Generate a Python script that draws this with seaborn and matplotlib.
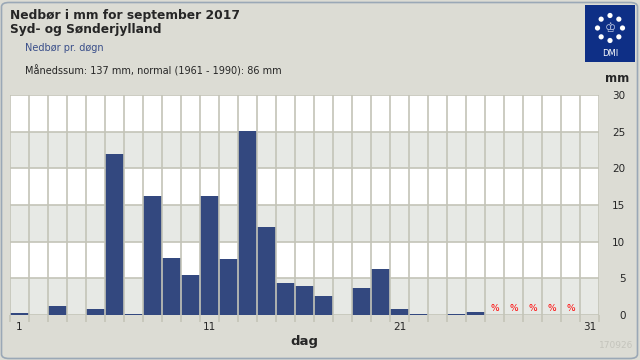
import numpy as np
import pandas as pd
import matplotlib
matplotlib.use("Agg")
import matplotlib.pyplot as plt
from matplotlib.patches import FancyBboxPatch, Rectangle, Circle
import seaborn as sns

sns.set_style("white")
plt.rcParams['font.family'] = ['DejaVu Sans']

# Data: daily precipitation (mm), September 2017, days 26-30 missing, day 31 doesn't exist
days = [str(d) for d in range(1, 32)]
rain = [0.3, 0.0, 1.2, 0.0, 0.8, 22.0, 0.2, 16.2, 7.8, 5.5,
        16.2, 7.6, 25.1, 12.0, 4.4, 4.0, 2.6, 0.0, 3.7, 6.3,
        0.8, 0.15, 0.0, 0.15, 0.35, np.nan, np.nan, np.nan, np.nan, np.nan,
        np.nan]
missing_days = ["26", "27", "28", "29", "30"]
xtick_labels = ["1", "11", "21", "31"]
yticks = [0, 5, 10, 15, 20, 25, 30]

df = pd.DataFrame({"dag": days, "mm": rain})

bg = "#dcdcd4"
band = "#e7e9e5"
gridc = "#c4c4b8"
barc = "#33487f"

fig = plt.figure(figsize=(6.4, 3.6), dpi=100, facecolor=bg)
ax = fig.add_axes([10 / 640, 45 / 360, 589 / 640, 220 / 360])
ax.set_facecolor("white")

# alternating bands
for lo in range(0, 30, 10):
    ax.axhspan(lo, lo + 5, color=band, zorder=0, lw=0)

sns.barplot(data=df, x="dag", y="mm", order=days, color=barc, saturation=1,
            width=1.0, edgecolor="none", linewidth=0, errorbar=None,
            ax=ax, zorder=2)

ax.set_xlim(-0.5, 30.5)
ax.set_ylim(0, 30)

# grid: horizontal behind bars, vertical separators in front
for x in np.arange(-0.5, 31, 1):
    ax.axvline(x, color=gridc, lw=1.2, zorder=3)
for y in yticks:
    ax.axhline(y, color=gridc, lw=1.2, zorder=1)

for s in ax.spines.values():
    s.set_visible(False)

# missing markers
for d in missing_days:
    ax.text(days.index(d), 0.3, "%", color="red", fontsize=6.5,
            ha="center", va="bottom", zorder=4)

# x ticks
ax.set_xticks([days.index(t) for t in xtick_labels])
ax.set_xticklabels(xtick_labels, fontsize=7.5)
ax.set_xticks(np.arange(-0.5, 31, 1), minor=True)
ax.tick_params(axis="x", which="major", length=0, pad=5)
ax.tick_params(axis="x", which="minor", length=5, color=gridc, width=1.2,
               direction="out", bottom=True)
ax.set_xlabel("dag", fontsize=9.5, fontweight="bold", labelpad=2)

# y ticks right
ax.yaxis.tick_right()
ax.set_yticks(yticks)
ax.set_yticklabels([str(v) for v in yticks], fontsize=7.5, ha="right")
ax.tick_params(axis="y", length=0, pad=19)
ax.set_ylabel("")

# border
fig.patches.append(FancyBboxPatch((1.5 / 640, 1.5 / 360), 636 / 640, 356 / 360,
                                  boxstyle="round,pad=0,rounding_size=0.012",
                                  transform=fig.transFigure, facecolor="none",
                                  edgecolor="#9aa8b6", lw=1.2, zorder=0))

# titles
fig.text(10 / 640, 1 - 15.5 / 360, "Nedbør i mm for september 2017", fontsize=8.8,
         fontweight="bold", va="center", ha="left")
fig.text(10 / 640, 1 - 30 / 360, "Syd- og Sønderjylland", fontsize=8.8,
         fontweight="bold", va="center", ha="left")
fig.text(25 / 640, 1 - 48 / 360, "Nedbør pr. døgn", fontsize=7,
         color="#3a4f8a", va="center", ha="left")
fig.text(25 / 640, 1 - 71 / 360, "Månedssum: 137 mm, normal (1961 - 1990): 86 mm",
         fontsize=7, va="center", ha="left")
fig.text(617 / 640, 1 - 78 / 360, "mm", fontsize=8.5, fontweight="bold",
         va="center", ha="center")
fig.text(633 / 640, 1 - 346 / 360, "170926", fontsize=6.5, color="#c4c4bc",
         va="center", ha="right")

# DMI logo
logo = fig.add_axes([585 / 640, 1 - 62 / 360, 50 / 640, 57 / 360])
logo.set_xlim(0, 50)
logo.set_ylim(57, 0)
logo.axis("off")
logo.add_patch(Rectangle((0, 0), 50, 57, facecolor="#0e2f86", edgecolor="none"))
cx, cy, r = 25, 23, 12.5
for k in range(8):
    a = np.pi / 2 + k * np.pi / 4
    logo.add_patch(Circle((cx + r * np.cos(a), cy - r * np.sin(a)), 2.6,
                          facecolor="white", edgecolor="none"))
logo.text(cx, cy + 1, "♔", color="#c8d0e8", fontsize=9, ha="center", va="center")
logo.text(25, 49, "DMI", color="white", fontsize=6, ha="center", va="center")

fig.savefig("out.png", dpi=100, facecolor=bg)
